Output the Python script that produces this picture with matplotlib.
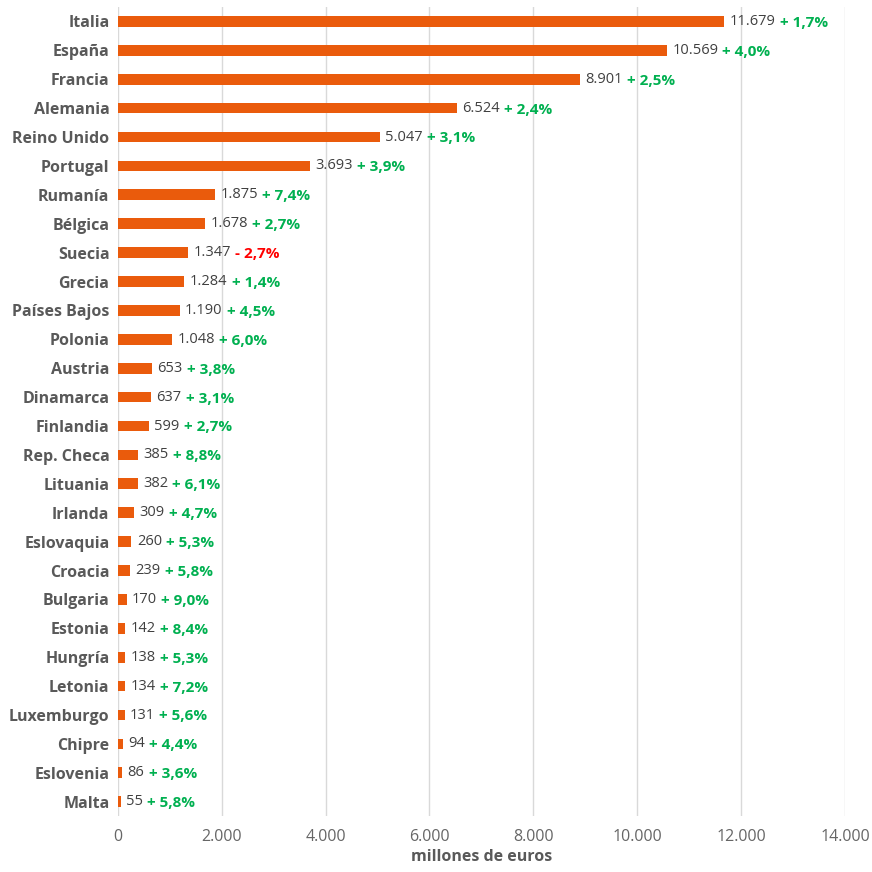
import matplotlib.pyplot as plt

paises = ['Italia', 'España', 'Francia', 'Alemania', 'Reino Unido', 'Portugal',
          'Rumanía', 'Bélgica', 'Suecia', 'Grecia', 'Países Bajos', 'Polonia',
          'Austria', 'Dinamarca', 'Finlandia', 'Rep. Checa', 'Lituania', 'Irlanda',
          'Eslovaquia', 'Croacia', 'Bulgaria', 'Estonia', 'Hungría', 'Letonia',
          'Luxemburgo', 'Chipre', 'Eslovenia', 'Malta']
valores = [11679, 10569, 8901, 6524, 5047, 3693, 1875, 1678, 1347, 1284, 1190, 1048,
           653, 637, 599, 385, 382, 309, 260, 239, 170, 142, 138, 134, 131, 94, 86, 55]
variacion = [1.7, 4.0, 2.5, 2.4, 3.1, 3.9, 7.4, 2.7, -2.7, 1.4, 4.5, 6.0,
             3.8, 3.1, 2.7, 8.8, 6.1, 4.7, 5.3, 5.8, 9.0, 8.4, 5.3, 7.2, 5.6, 4.4, 3.6, 5.8]
ticks = [0, 2000, 4000, 6000, 8000, 10000, 12000, 14000]

plt.rcParams['font.family'] = ['Open Sans', 'DejaVu Sans']

def miles(v):
    return f'{v:,}'.replace(',', '.')

fig = plt.figure(figsize=(8.72, 8.72), dpi=100)
ax = fig.add_axes([0.135, 0.064, 0.834, 0.928])

pos = list(range(len(paises)))
ax.barh(pos, valores, height=0.37, color='#EA5B0C', zorder=3)
ax.set_ylim(len(paises) - 0.5, -0.5)
ax.set_xlim(0, 14000)
ax.set_yticks(pos)
ax.set_yticklabels(paises, fontsize=11.5, fontweight='bold', color='#595959')
ax.set_xticks(ticks)
ax.set_xticklabels([miles(t) for t in ticks], fontsize=11.5, color='#666666')
ax.tick_params(length=0, pad=6)
ax.tick_params(axis='x', pad=9)
ax.grid(axis='x', color='#d9d9d9', linewidth=1, zorder=0)
for s in ax.spines.values():
    s.set_visible(False)
ax.set_xlabel('millones de euros', fontsize=11.5, fontweight='bold', color='#595959', labelpad=3)

for i, (v, p) in enumerate(zip(valores, variacion)):
    t = ax.annotate(miles(v), xy=(v, i), xytext=(4, 0), textcoords='offset points',
                    va='center', ha='left', fontsize=10.5, color='#404040')
    if p >= 0:
        txt, col = f'+ {p:.1f}%'.replace('.', ','), '#00B050'
    else:
        txt, col = f'- {abs(p):.1f}%'.replace('.', ','), '#FF0000'
    ax.annotate(txt, xy=(1, 0.5), xycoords=t, xytext=(3, -1), textcoords='offset points',
                va='center', ha='left', fontsize=11, fontweight='bold', color=col)

fig.savefig('out.png', dpi=100)
